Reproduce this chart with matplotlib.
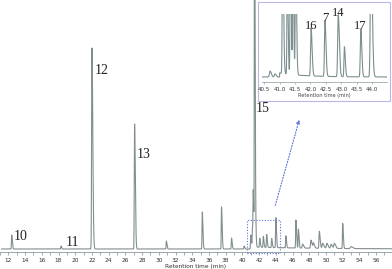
import numpy as np
import matplotlib
matplotlib.use("Agg")
import matplotlib.pyplot as plt
from matplotlib.patches import Rectangle

# ---- main chromatogram peaks (retention time [min], relative height) ----
main_rt = [12.4, 18.3, 22.0, 27.1, 30.9, 35.2, 37.5, 38.7, 40.2, 41.0, 41.2, 41.3, 41.45,
           41.55, 42.07, 42.5, 42.9, 43.5, 44.0, 45.2, 46.4, 46.7, 47.2, 48.2, 48.5,
           49.2, 49.6, 50.1, 50.6, 51.0, 52.0, 53.0]
main_h = [14, 3, 201, 125, 8, 37, 42, 11, 3, 12, 20, 49, 400,
          30, 9, 11, 13, 9, 30, 12, 28, 19, 4, 8, 5,
          17, 5, 5, 4, 5, 25, 2]
main_w = [0.03, 0.03, 0.04, 0.035, 0.03, 0.03, 0.03, 0.03, 0.03, 0.03, 0.03, 0.03, 0.025,
          0.03, 0.03, 0.03, 0.03, 0.03, 0.03, 0.03, 0.03, 0.03, 0.05, 0.05, 0.05,
          0.04, 0.06, 0.06, 0.06, 0.06, 0.03, 0.08]
main_xticks = list(range(12, 57, 2))

# ---- inset (zoom 40.4 - 44.5 min) ----
ins_rt = [40.69, 40.85, 41.1, 41.25, 41.35, 41.43, 41.52, 42.02, 42.47, 42.9, 43.1, 43.63, 43.96]
ins_h = [6, 3, 140, 110, 160, 150, 120, 48, 56, 62, 30, 48, 140]
ins_w = [0.02, 0.02, 0.014, 0.012, 0.012, 0.012, 0.014, 0.016, 0.016, 0.018, 0.014, 0.016, 0.02]
ins_xticks = [40.5, 41.0, 41.5, 42.0, 42.5, 43.0, 43.5, 44.0]

main_labels = ["10", "11", "12", "13", "15"]
main_label_pos = [(12.6, 13), (18.9, 7), (22.3, 180), (27.3, 95), (41.6, 142)]
ins_labels = ["16", "7", "14", "17"]
ins_label_pos = [(42.02, 53), (42.47, 61), (42.89, 66), (43.6, 53)]


def trace(x, rts, hs, ws, tail=2.5):
    y = np.zeros_like(x)
    for r, h, w in zip(rts, hs, ws):
        d = x - r
        sig = np.where(d < 0, w, w * tail)
        y += h * np.exp(-0.5 * (d / sig) ** 2)
    return y


fig = plt.figure(figsize=(3.92, 2.69), dpi=100)
ax = fig.add_axes([0.0, 17 / 269, 1.0, 252 / 269])

x = np.linspace(11.2, 58, 40000)
y = trace(x, main_rt, main_h, main_w) + 1.0
y += np.where(x > 41.0, 2.0 * np.exp(-(x - 41.0) / 8.0), 0)
ax.plot(x, y, color="#838e8e", lw=0.8)
ax.set_xlim(11.2, 57.9)
ax.set_ylim(-2, 250)
for s in ["left", "right", "top"]:
    ax.spines[s].set_visible(False)
ax.spines["bottom"].set_color("#8a9a9a")
ax.spines["bottom"].set_linewidth(0.6)
ax.set_yticks([])
ax.set_xticks(main_xticks)
ax.set_xticks(np.arange(11, 58, 1), minor=True)
ax.tick_params(axis="x", which="both", length=2, width=0.5, color="#7a8aaa",
               labelsize=4.2, pad=2, labelcolor="#333333")
ax.set_xlabel("Retention time (min)", fontsize=4.2, labelpad=1, color="#333333")

for t, (px, py) in zip(main_labels, main_label_pos):
    ax.text(px, py, t, fontsize=10, family="Liberation Serif", color="#222222",
            va="center", ha="left")

# dashed zoom region and arrow
ax.add_patch(Rectangle((40.5, -2.7), 4.0, 32.7, fill=False, ls=(0, (1, 1.5)),
                       lw=0.8, ec="#6070e0", clip_on=False))
ax.annotate("", xy=(46.9, 133), xytext=(43.85, 42),
            arrowprops=dict(arrowstyle="-|>", ls=(0, (1, 1.5)), lw=0.8,
                            color="#6070e0", mutation_scale=5))

# inset frame
fig.patches.append(Rectangle((258 / 392, (269 - 101) / 269), 132 / 392, 99 / 269,
                             transform=fig.transFigure, fill=True, fc="white",
                             ec="#b8b8e8", lw=0.8, zorder=5))

ax2 = fig.add_axes([261.7 / 392, (269 - 82) / 269, 125 / 392, 68 / 269], zorder=6)
xi = np.linspace(40.42, 44.47, 8000)
yi = trace(xi, ins_rt, ins_h, ins_w, tail=2.0) + 2.0
yi += np.where(xi > 41.0, 4.0 * np.exp(-(xi - 41.0) / 0.8), 0)
ax2.plot(xi, yi, color="#7d8f8f", lw=0.8)
ax2.set_xlim(40.42, 44.47)
ax2.set_ylim(-3, 65)
ax2.patch.set_alpha(0)
for s in ["left", "right", "top"]:
    ax2.spines[s].set_visible(False)
ax2.spines["bottom"].set_color("#8a9a9a")
ax2.spines["bottom"].set_linewidth(0.5)
ax2.set_yticks([])
ax2.set_xticks(ins_xticks)
ax2.set_xticklabels([f"{v:.1f}" for v in ins_xticks])
ax2.tick_params(axis="x", length=1.5, width=0.4, color="#7a8aaa", labelsize=4,
                pad=2, labelcolor="#333333")
ax2.set_xlabel("Retention time (min)", fontsize=3.6, labelpad=0.5, color="#444444")
for t, (px, py) in zip(ins_labels, ins_label_pos):
    ax2.text(px, py, t, fontsize=9, family="Liberation Serif", color="#222222",
             ha="center", va="center", clip_on=False)

fig.savefig("out.png", dpi=100)
